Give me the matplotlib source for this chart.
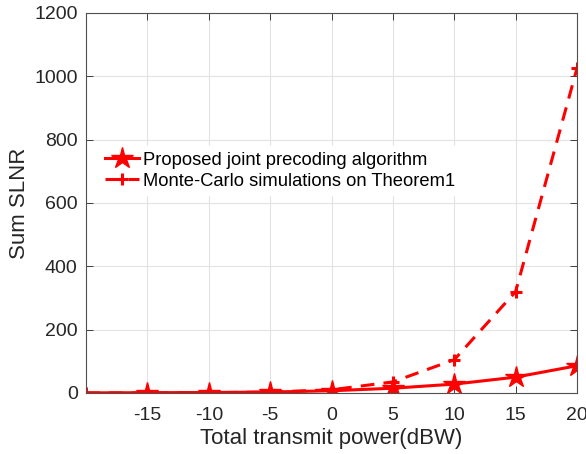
import matplotlib.pyplot as plt
import numpy as np

plt.rcParams['font.family'] = ['Liberation Sans', 'DejaVu Sans']
plt.rcParams['axes.unicode_minus'] = False

power_dbw = [-20, -15, -10, -5, 0, 5, 10, 15, 20]
proposed = [0.4, 0.8, 1.5, 3, 7, 15, 28, 50, 86]
monte_carlo = [0.1, 0.3, 1, 3, 10, 35, 105, 320, 1025]

fig = plt.figure(figsize=(5.86, 4.54), dpi=100)
ax = fig.add_axes([0.1468, 0.1344, 0.8378, 0.837])

ax.plot(power_dbw, proposed, color='red', lw=2.2, marker='*', markersize=16,
        markevery=list(range(1, len(power_dbw))),
        label='Proposed joint precoding algorithm')
ax.plot(power_dbw, monte_carlo, color='red', lw=2.2, linestyle=(0, (4.5, 3)),
        marker='+', markersize=9, markeredgewidth=2.2,
        label='Monte-Carlo simulations on Theorem1')

ax.set_xlim(-20, 20)
ax.set_ylim(0, 1200)
ax.set_xticks([-15, -10, -5, 0, 5, 10, 15, 20])
ax.set_yticks(np.arange(0, 1201, 200))
ax.grid(True, color='#e3e3e3', lw=0.8)
ax.set_axisbelow(True)
ax.tick_params(direction='in', top=True, right=True, labelsize=14,
               colors='#262626', length=5, width=0.6)
ax.tick_params(axis='x', pad=10)
ax.tick_params(axis='y', pad=6)
for s in ax.spines.values():
    s.set_color('#505050')
    s.set_linewidth(0.8)

ax.set_xlabel('Total transmit power(dBW)', fontsize=16, color='#262626', labelpad=3)
ax.set_ylabel('Sum SLNR', fontsize=16, color='#262626', labelpad=3)

leg = ax.legend(loc='upper left', bbox_to_anchor=(0.008, 0.673), fontsize=13.2,
                frameon=True, fancybox=False, edgecolor='white', framealpha=1,
                handlelength=1.87, handletextpad=0.25, borderpad=0.3, labelspacing=0.2)

fig.savefig('out.png', dpi=100)
